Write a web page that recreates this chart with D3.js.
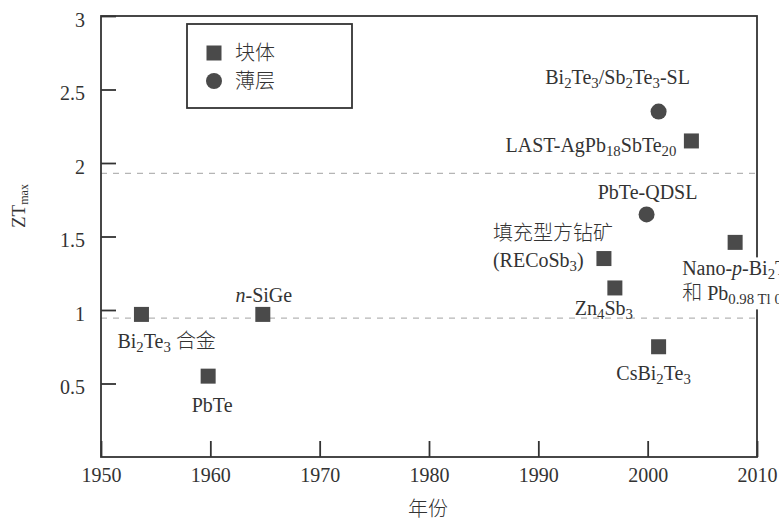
<!DOCTYPE html>
<html>
<head>
<meta charset="utf-8">
<script src="https://cdn.jsdelivr.net/npm/d3@7/dist/d3.min.js"></script>
<style>
  html, body { margin: 0; padding: 0; background: #fff; }
  svg { display: block; }
</style>
</head>
<body>
<svg id="chart" width="779" height="523"></svg>
<script>
// Maximum ZT of thermoelectric materials by year of report
const materials = ["Bi{2}Te{3} 合金", "PbTe", "n-SiGe", "填充型方钻矿 (RECoSb{3})", "Zn{4}Sb{3}",
                   "CsBi{2}Te{3}", "Nano-p-Bi{2}Te{3} 和 Pb{0.98} Tl{0.02}Te",
                   "PbTe-QDSL", "Bi{2}Te{3}/Sb{2}Te{3}-SL", "LAST-AgPb{18}SbTe{20}"];
const years    = [1953.7, 1959.8, 1964.8, 1996.0, 1997.0, 2001.0, 2008.0, 1999.9, 2001.0, 2004.0];
const ztMax    = [0.97, 0.55, 0.97, 1.35, 1.15, 0.75, 1.46, 1.65, 2.35, 2.15];
const kinds    = ["块体", "块体", "块体", "块体", "块体", "块体", "块体", "薄层", "薄层", "块体"];

const legendItems = ["块体", "薄层"];
const xTicks = [1950, 1960, 1970, 1980, 1990, 2000, 2010];
const yTicks = [0.5, 1, 1.5, 2, 2.5, 3];
const guideLevels = [1.93, 0.945];

const W = 779, H = 523;
const margin = { left: 101, right: 22, top: 16, bottom: 66 };
const serif = "'Liberation Serif', 'DejaVu Serif', serif";
const cjk = "'Noto Sans CJK SC', sans-serif";
const ink = "#333";
const markFill = "#4a4a4a";
const FS = 20;

const svg = d3.select("#chart");

const x = d3.scaleLinear().domain([1950, 2010]).range([margin.left, W - margin.right]);
const y = d3.scaleLinear().domain([0, 3]).range([H - margin.bottom, margin.top]);

// Text with {sub} subscripts; CJK runs get the CJK face
function richText(sel, str, size) {
  const parts = str.split(/(\{[^}]*\})/).filter(s => s.length);
  let prevSub = false;
  parts.forEach(p => {
    const isSub = p.startsWith("{");
    const txt = isSub ? p.slice(1, -1) : p;
    const runs = txt.match(/([\u3400-\u9fff]+|[^\u3400-\u9fff]+)/g) || [];
    runs.forEach((r, i) => {
      const t = sel.append("tspan").text(r);
      const isCjk = /[\u3400-\u9fff]/.test(r);
      t.attr("font-family", isCjk ? cjk : serif)
       .attr("font-size", isSub ? size * 0.74 : size);
      if (isCjk) t.attr("font-weight", 300);
      if (isSub && i === 0 && !prevSub) t.attr("dy", size * 0.2);
      if (!isSub && prevSub && i === 0) t.attr("dy", -size * 0.2);
    });
    prevSub = isSub;
  });
}

// Dashed guide lines
svg.append("g").selectAll("line").data(guideLevels).join("line")
  .attr("x1", x(1950)).attr("x2", x(2010))
  .attr("y1", d => y(d)).attr("y2", d => y(d))
  .attr("stroke", "#b5b5b5").attr("stroke-width", 1.2)
  .attr("stroke-dasharray", "6,6");

// Axes with inward ticks
const xAxis = d3.axisBottom(x).tickValues(xTicks).tickSize(-16).tickPadding(19).tickFormat(d3.format("d"));
const yAxis = d3.axisLeft(y).tickValues(yTicks).tickSize(-15).tickPadding(16).tickFormat(d => d);

const gx = svg.append("g").attr("transform", `translate(0,${y(0)})`).call(xAxis);
const gy = svg.append("g").attr("transform", `translate(${x(1950)},0)`).call(yAxis);
[gx, gy].forEach(g => {
  g.select(".domain").remove();
  g.selectAll(".tick line").attr("stroke", ink).attr("stroke-width", 1.8);
  g.selectAll(".tick text").attr("fill", ink).attr("font-family", serif).attr("font-size", FS);
});
gx.selectAll(".tick text").attr("dy", "0.32em");
gy.selectAll(".tick text").attr("dy", "0.52em");

// Frame
svg.append("rect")
  .attr("x", x(1950)).attr("y", y(3))
  .attr("width", x(2010) - x(1950)).attr("height", y(0) - y(3))
  .attr("fill", "none").attr("stroke", ink).attr("stroke-width", 1.8);

// Axis titles
svg.append("text").attr("x", (x(1950) + x(2010)) / 2 - 1).attr("y", 516)
  .attr("text-anchor", "middle").attr("font-family", cjk).attr("font-weight", 300)
  .attr("font-size", FS).attr("fill", ink).text("年份");

const yt = svg.append("text")
  .attr("transform", `translate(25,228) rotate(-90)`)
  .attr("text-anchor", "start").attr("fill", ink);
yt.append("tspan").attr("font-family", serif).attr("font-size", 19).text("ZT");
yt.append("tspan").attr("font-family", serif).attr("font-size", 12).attr("dy", 3).text("max");

// Label layout: offsets from each point, text anchor, extra line offsets
const labelLayout = [
  { dx: -24, dy: 34, anchor: "start",  lines: [0] },
  { dx: 4,   dy: 36, anchor: "middle", lines: [0] },
  { dx: 1,   dy: -12, anchor: "middle", lines: [0] },
  { dx: -111, dy: -19, anchor: "start", lines: [0, 27] },
  { dx: -11, dy: 27, anchor: "middle", lines: [0] },
  { dx: -5,  dy: 33, anchor: "middle", lines: [0] },
  { dx: -53, dy: 33, anchor: "start",  lines: [0, 25], mask: true },
  { dx: 1,   dy: -15, anchor: "middle", lines: [0] },
  { dx: -41, dy: -28, anchor: "middle", lines: [0] },
  { dx: -15, dy: 11, anchor: "end",    lines: [0] }
];

const data = materials.map((m, i) => ({ name: m, year: years[i], zt: ztMax[i], kind: kinds[i], lay: labelLayout[i] }));

// Labels
const lblG = svg.append("g");
data.forEach(d => {
  const px = x(d.year), py = y(d.zt);
  let texts = [d.name];
  if (d.name.startsWith("填充")) texts = ["填充型方钻矿", "(RECoSb{3})"];
  if (d.name.startsWith("Nano")) texts = ["Nano-p-Bi{2}Te{3}", "和 Pb{0.98 Tl 0.02}Te"];
  const g = lblG.append("g");
  texts.forEach((t, k) => {
    const te = g.append("text")
      .attr("x", px + d.lay.dx).attr("y", py + d.lay.dy + d.lay.lines[k])
      .attr("text-anchor", d.lay.anchor).attr("fill", ink);
    if (t.startsWith("Nano-p-")) {
      te.append("tspan").attr("font-family", serif).attr("font-size", FS).text("Nano-");
      te.append("tspan").attr("font-family", serif).attr("font-size", FS).attr("font-style", "italic").text("p");
      richText(te, "-Bi{2}Te{3}", FS);
    } else if (t.startsWith("n-SiGe")) {
      te.append("tspan").attr("font-family", serif).attr("font-size", FS).attr("font-style", "italic").text("n");
      te.append("tspan").attr("font-family", serif).attr("font-size", FS).text("-SiGe");
    } else {
      richText(te, t, FS);
    }
  });
  if (d.lay.mask) {
    const bb = g.node().getBBox();
    g.insert("rect", ":first-child")
      .attr("x", bb.x - 2).attr("y", bb.y)
      .attr("width", bb.width + 4).attr("height", bb.height + 2)
      .attr("fill", "#fff");
  }
});

// Markers
const sq = 15, rad = 8;
const marks = svg.append("g");
marks.selectAll("rect").data(data.filter(d => d.kind === "块体")).join("rect")
  .attr("x", d => x(d.year) - sq / 2).attr("y", d => y(d.zt) - sq / 2)
  .attr("width", sq).attr("height", sq).attr("fill", markFill);
marks.selectAll("circle").data(data.filter(d => d.kind === "薄层")).join("circle")
  .attr("cx", d => x(d.year)).attr("cy", d => y(d.zt)).attr("r", rad).attr("fill", markFill);

// Legend
const lg = svg.append("g");
lg.append("rect").attr("x", 187).attr("y", 24).attr("width", 165).attr("height", 84)
  .attr("fill", "#fff").attr("stroke", ink).attr("stroke-width", 1.8);
legendItems.forEach((k, i) => {
  const cy = 53 + i * 28;
  if (i === 0) {
    lg.append("rect").attr("x", 214 - sq / 2).attr("y", cy - sq / 2).attr("width", sq).attr("height", sq).attr("fill", markFill);
  } else {
    lg.append("circle").attr("cx", 214).attr("cy", cy).attr("r", rad).attr("fill", markFill);
  }
  lg.append("text").attr("x", 235).attr("y", cy + 7)
    .attr("font-family", cjk).attr("font-weight", 300).attr("font-size", FS)
    .attr("fill", ink).text(k);
});
</script>
</body>
</html>
